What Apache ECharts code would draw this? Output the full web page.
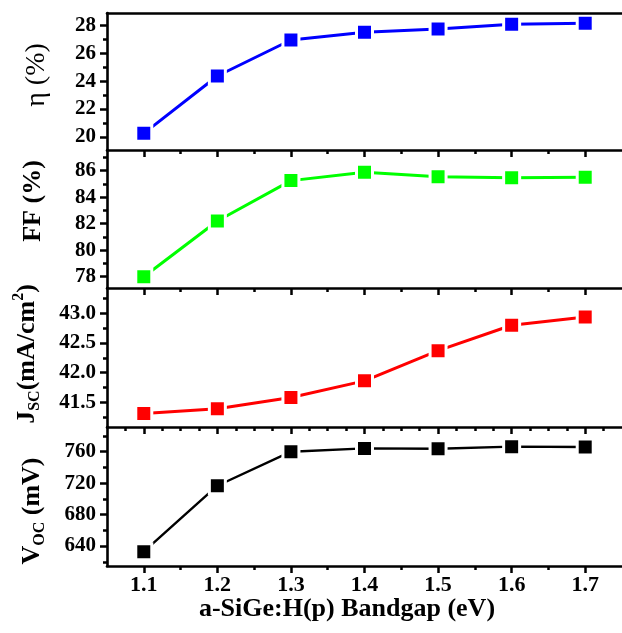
<!DOCTYPE html>
<html>
<head>
<meta charset="utf-8">
<script src="https://cdn.jsdelivr.net/npm/echarts@6/dist/echarts.min.js"></script>
<style>
  html, body { margin: 0; padding: 0; background: #fff; }
  #chart { width: 622px; height: 633px; }
</style>
</head>
<body>
<div id="chart"></div>
<script>
// bandgap of a-SiGe:H(p) layer, eV
const bandgap = [1.1, 1.2, 1.3, 1.4, 1.5, 1.6, 1.7]
const eta = [20.25, 24.37, 26.96, 27.51, 27.75, 28.09, 28.16]
const ff = [78.0, 82.2, 85.25, 85.88, 85.55, 85.47, 85.5]
const jsc = [41.31, 41.39, 41.58, 41.86, 42.37, 42.80, 42.94]
const voc = [632.8, 716.7, 760, 764.2, 763.8, 766.4, 766]

// tick values
const xMajor = [1.1, 1.2, 1.3, 1.4, 1.5, 1.6, 1.7]
const xMinor = [1.15, 1.25, 1.35, 1.45, 1.55, 1.65]
const xMinorFine = [1.075, 1.125, 1.15, 1.175, 1.225, 1.25, 1.275, 1.325, 1.35, 1.375,
  1.425, 1.45, 1.475, 1.525, 1.55, 1.575, 1.625, 1.65, 1.675, 1.725]
const etaTicks = [20, 22, 24, 26, 28]
const etaMinor = [21, 23, 25, 27]
const ffTicks = [78, 80, 82, 84, 86]
const ffMinor = [79, 81, 83, 85, 87]
const jscTicks = [41.5, 42.0, 42.5, 43.0]
const jscMinor = [41.25, 41.75, 42.25, 42.75, 43.25]
const vocTicks = [640, 680, 720, 760]
const vocMinor = [620, 660, 700, 740, 780]

const FONT = '"Liberation Serif", "Times New Roman", serif'
const LEFT = 107, WIDTH = 518

const panels = [
  { values: eta, color: '#0000ff', min: 19.05, max: 28.9, major: etaTicks, minor: etaMinor, xMinor: xMinor, top: 13, height: 137, lw: 3, fmt: v => v },
  { values: ff, color: '#00ff00', min: 77.15, max: 87.56, major: ffTicks, minor: ffMinor, xMinor: xMinor, top: 150, height: 138, lw: 3, fmt: v => v },
  { values: jsc, color: '#ff0000', min: 41.08, max: 43.43, major: jscTicks, minor: jscMinor, xMinor: xMinorFine, top: 288, height: 139, lw: 3, fmt: v => v.toFixed(1) },
  { values: voc, color: '#000000', min: 614.6, max: 791.4, major: vocTicks, minor: vocMinor, xMinor: xMinor, top: 427, height: 139, lw: 2.4, fmt: v => v },
]

const axisLineStyle = { color: '#000', width: 2.6 }
const labelStyle = { color: '#000', fontFamily: FONT, fontWeight: 'bold', fontSize: 21 }

const grid = [], xAxis = [], yAxis = [], series = []
panels.forEach((p, i) => {
  grid.push({ left: LEFT, width: WIDTH, top: p.top, height: p.height, show: false })
  // main x axis
  xAxis.push({
    type: 'value', gridIndex: i, min: 1.05, max: 1.75, position: 'bottom', z: 10,
    axisLine: { onZero: false, lineStyle: axisLineStyle },
    axisTick: { customValues: xMajor, length: 7, lineStyle: { width: 2.5, color: '#000' } },
    axisLabel: { show: i === 3, customValues: xMajor, margin: 8, ...labelStyle, fontSize: 22, formatter: v => v.toFixed(1) },
    splitLine: { show: false },
  })
  // minor x ticks
  xAxis.push({
    type: 'value', gridIndex: i, min: 1.05, max: 1.75, position: 'bottom',
    axisLine: { show: false },
    axisTick: { customValues: p.xMinor, length: 4, lineStyle: { width: 2.5, color: '#000' } },
    axisLabel: { show: false },
    splitLine: { show: false },
  })
  yAxis.push({
    type: 'value', gridIndex: i, min: p.min, max: p.max, position: 'left', z: 10,
    axisLine: { show: true, onZero: false, lineStyle: axisLineStyle },
    axisTick: { customValues: p.major, length: 7, lineStyle: { width: 2.5, color: '#000' } },
    axisLabel: { customValues: p.major, margin: 11, ...labelStyle, formatter: p.fmt },
    splitLine: { show: false },
  })
  yAxis.push({
    type: 'value', gridIndex: i, min: p.min, max: p.max, position: 'left',
    axisLine: { show: false },
    axisTick: { customValues: p.minor, length: 4, lineStyle: { width: 2.5, color: '#000' } },
    axisLabel: { show: false },
    splitLine: { show: false },
  })
  series.push({
    type: 'line', xAxisIndex: 2 * i, yAxisIndex: 2 * i,
    data: bandgap.map((x, k) => [x, p.values[k]]),
    symbol: 'rect', symbolSize: 16,
    itemStyle: { color: p.color, borderColor: '#fff', borderWidth: 3 },
    lineStyle: { color: p.color, width: p.lw },
    z: 3,
  })
})
// top frame of first panel
xAxis.push({
  type: 'value', gridIndex: 0, min: 1.05, max: 1.75, position: 'top', z: 10,
  axisLine: { onZero: false, lineStyle: axisLineStyle },
  axisTick: { show: false }, axisLabel: { show: false }, splitLine: { show: false },
})

const titleBold = { fontFamily: FONT, fontWeight: 'bold', fontSize: 26, fill: '#000', lineHeight: 32 }
const subStyle = { fontFamily: FONT, fontWeight: 'bold', fontSize: 16, fill: '#000', verticalAlign: 'bottom', lineHeight: 24 }
const supStyle = { fontFamily: FONT, fontWeight: 'bold', fontSize: 16, fill: '#000', verticalAlign: 'top', lineHeight: 32 }

function vTitle(x, y, text, rich) {
  return {
    type: 'text', x: x, y: y, rotation: Math.PI / 2,
    style: {
      text: text, rich: rich, align: 'center', verticalAlign: 'middle',
      textAlign: 'center', textVerticalAlign: 'middle',
      font: 'bold 26px ' + FONT, fill: '#000',
    },
  }
}

const graphic = [
  {
    type: 'text', x: 37, y: 75, rotation: Math.PI / 2,
    style: {
      text: 'η (%)', align: 'center', verticalAlign: 'middle',
      textAlign: 'center', textVerticalAlign: 'middle',
      font: 'normal 28px ' + FONT, fill: '#000',
    },
  },
  vTitle(33, 201, 'FF (%)', {}),
  vTitle(27, 354, '{m|J}{s|SC}{m|(mA/cm}{p|2}{m|)}', { m: titleBold, s: subStyle, p: supStyle }),
  vTitle(32, 511, '{m|V}{s|OC}{m| (mV)}', { m: titleBold, s: subStyle }),
  {
    type: 'text', x: 347, y: 609,
    style: {
      text: 'a-SiGe:H(p) Bandgap (eV)', align: 'center', verticalAlign: 'middle',
      textAlign: 'center', textVerticalAlign: 'middle',
      font: 'bold 26px ' + FONT, fill: '#000',
    },
  },
]

const chart = echarts.init(document.getElementById('chart'), null, { renderer: 'canvas' })
chart.setOption({
  animation: false,
  backgroundColor: '#fff',
  grid, xAxis, yAxis, series, graphic,
})
</script>
</body>
</html>
